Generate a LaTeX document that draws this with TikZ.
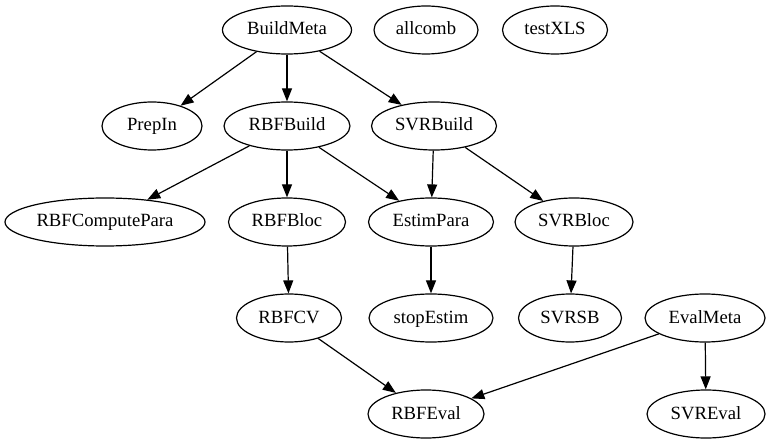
\documentclass[tikz,border=0pt]{standalone}
\usepackage{fontspec}
\setmainfont{Liberation Serif}
\usetikzlibrary{shapes.geometric,arrows.meta}
\tikzset{mfile/.style = {ellipse, draw, line width=1.2pt, inner xsep=0pt, inner ysep=0pt,
	minimum height=48pt, text height=13.5pt, text depth=3.5pt,
	font=\fontsize{18.67}{22}\selectfont},
	call/.style = {line width=1.2pt, -{Triangle[length=13pt,width=10pt]}}}
\newcommand{\mfile}[3]{\node[mfile, minimum width=#2pt] (#1) at (#3) {#1}}
\newcommand{\call}[2]{\draw[call] (#1) -- (#2)}

\begin{document}
\begin{tikzpicture}[x = 1pt, y = -1pt]
\useasboundingbox (0,0) rectangle (770,443);
%First rank
	\mfile{BuildMeta}{129}{287,30};
	\mfile{allcomb}{104}{426,30};
	\mfile{testXLS}{105}{555,30};
%Second rank
	\mfile{PrepIn}{100}{152,126};
	\mfile{RBFBuild}{126}{287,126};
	\mfile{SVRBuild}{125}{434,126};
%Third rank
	\mfile{RBFComputePara}{200}{105,222};
	\mfile{RBFBloc}{117}{287,222};
	\mfile{EstimPara}{125}{431,222};
	\mfile{SVRBloc}{118}{574,222};
%Fourth rank
	\mfile{RBFCV}{105}{289,318};
	\mfile{stopEstim}{124}{431,318};
	\mfile{SVRSB}{103}{570,318};
	\mfile{EvalMeta}{120}{705,318};
%Last rank
	\mfile{RBFEval}{116}{426,414};
	\mfile{SVREval}{118}{706,414};
%Calls
	\call{BuildMeta}{PrepIn};
	\call{BuildMeta}{RBFBuild};
	\call{BuildMeta}{SVRBuild};
	\call{RBFBuild}{RBFComputePara};
	\call{RBFBuild}{RBFBloc};
	\call{RBFBuild}{EstimPara};
	\call{SVRBuild}{EstimPara};
	\call{SVRBuild}{SVRBloc};
	\call{RBFBloc}{RBFCV};
	\call{EstimPara}{stopEstim};
	\call{SVRBloc}{SVRSB};
	\call{RBFCV}{RBFEval};
	\call{EvalMeta}{RBFEval};
	\call{EvalMeta}{SVREval};
\end{tikzpicture}
\end{document}
